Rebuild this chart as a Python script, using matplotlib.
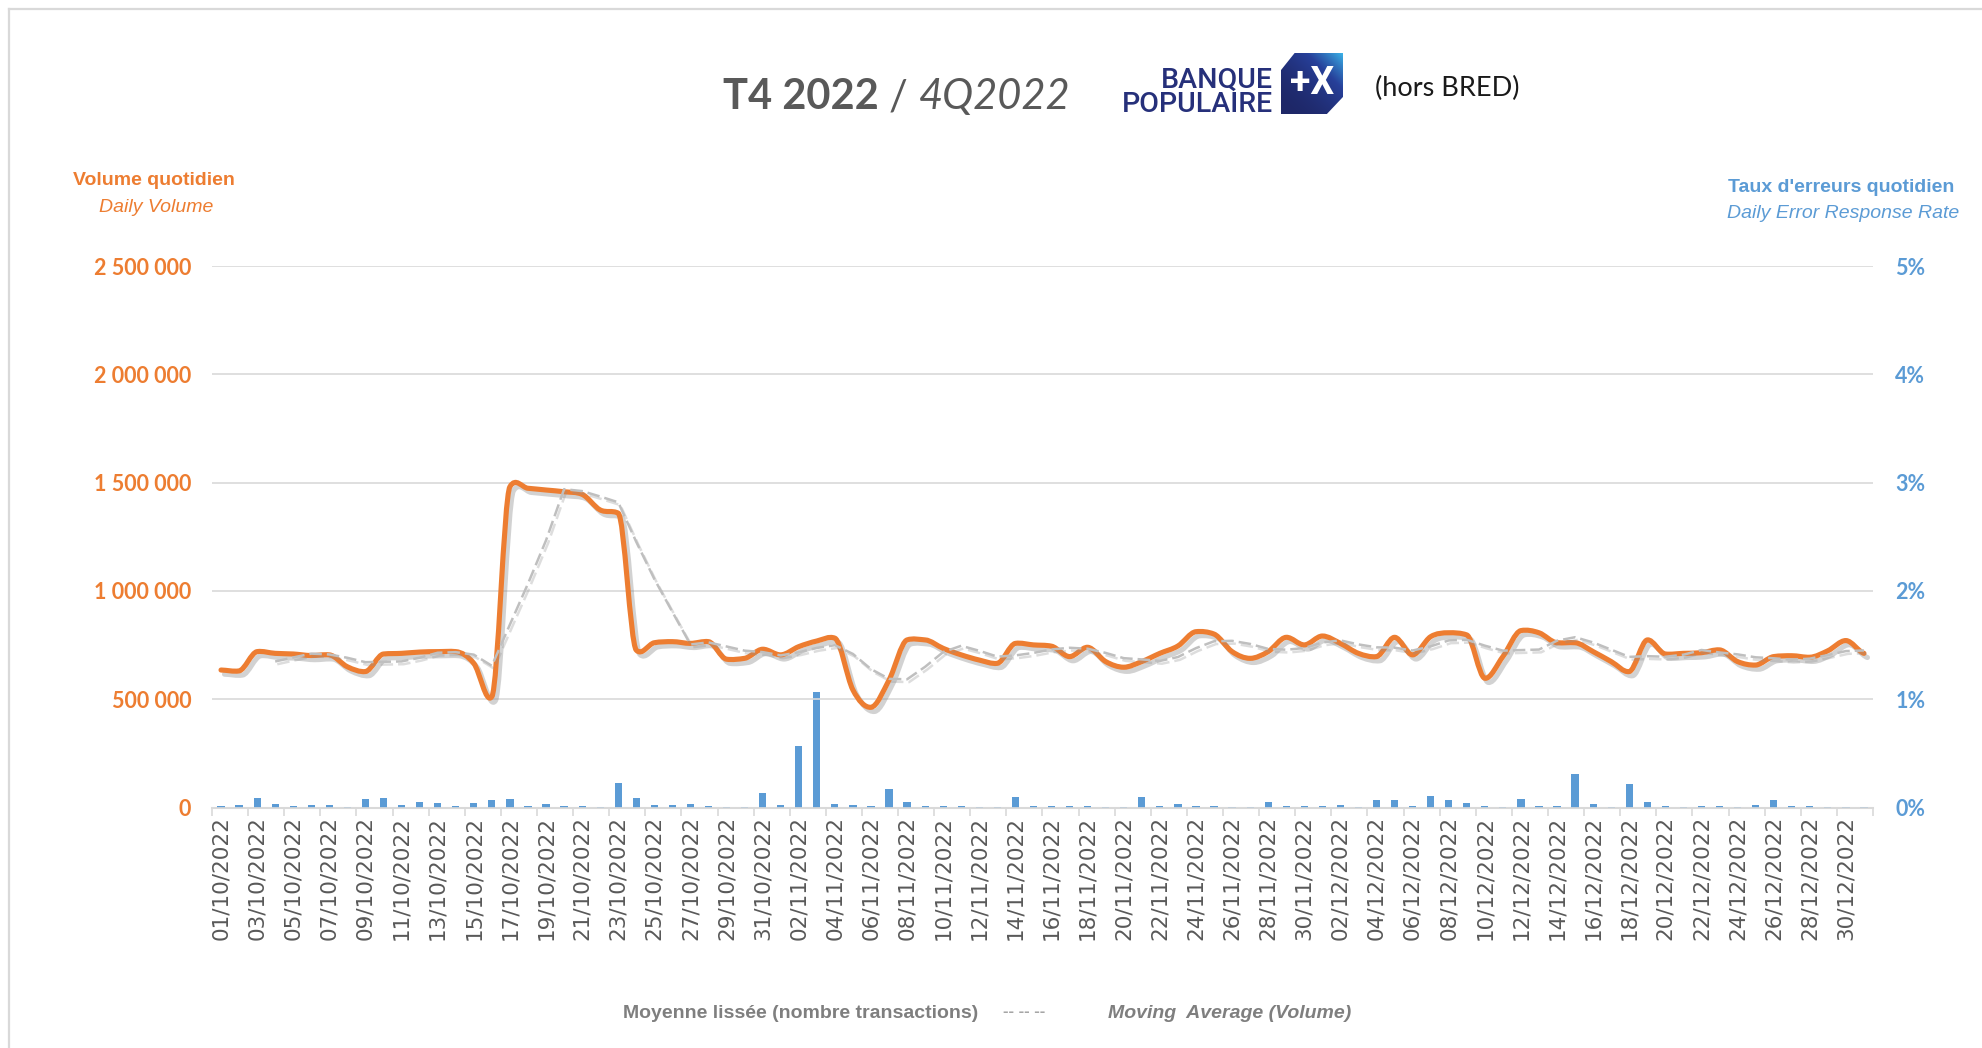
import matplotlib

matplotlib.use("Agg")
import matplotlib.patheffects as pe
import matplotlib.pyplot as plt
import numpy as np
import pandas as pd
from matplotlib import font_manager
from matplotlib.lines import Line2D
from matplotlib.patches import PathPatch, Polygon
from matplotlib.path import Path
from matplotlib.ticker import FuncFormatter

W, H = 1983, 1048

# daily categories, 01/10/2022 -> 31/12/2022
dates = pd.date_range("2022-10-01", "2022-12-31", freq="D")
date_labels = [d.strftime("%d/%m/%Y") for d in dates]

# daily volume (transactions)
daily_volume = [
    635000, 631000, 720000, 712000, 709000, 702000, 705000, 650000, 628000, 709000,
    712000, 718000, 720000, 720000, 666000, 512000, 1481000, 1474000, 1466000, 1458000,
    1446000, 1374000, 1359000, 727000, 761000, 766000, 758000, 766000, 685000, 689000,
    731000, 705000, 743000, 769000, 782000, 543000, 463000, 589000, 774000, 774000,
    735000, 705000, 681000, 666000, 758000, 751000, 745000, 697000, 740000, 674000,
    648000, 674000, 712000, 746000, 812000, 801000, 720000, 689000, 720000, 786000,
    751000, 792000, 758000, 712000, 697000, 786000, 705000, 789000, 807000, 797000,
    597000, 697000, 817000, 807000, 761000, 761000, 720000, 674000, 628000, 774000,
    709000, 712000, 715000, 728000, 674000, 658000, 697000, 701000, 694000, 724000,
    771000, 712000,
]

# moving average (volume), starts on the 4th day
moving_avg = [
    674500, 693000, 710750, 707000, 691500, 671250, 673000, 674750, 691750, 714750,
    717500, 706000, 654500, 844750, 1033250, 1233250, 1469750, 1461000, 1436000, 1409250,
    1226500, 1055250, 903250, 753000, 762750, 743750, 724500, 717750, 702500, 717000,
    737000, 749750, 709250, 639250, 594250, 592250, 650000, 718000, 747000, 723750,
    696750, 702500, 714000, 730000, 737750, 733250, 714000, 689750, 684000, 677000,
    695000, 736000, 767750, 769750, 755500, 732500, 728750, 736500, 762250, 771750,
    753250, 739750, 738250, 725000, 744250, 771750, 774500, 747500, 724500, 727000,
    729500, 770500, 786500, 762250, 729000, 695750, 699000, 696250, 705750, 727500,
    716000, 707250, 693750, 689250, 682500, 687500, 704000, 722500, 725250,
]
ma_start = 3

# daily error response rate (%)
error_rate = [
    0.012, 0.022, 0.085, 0.032, 0.018, 0.022, 0.022, 0.010, 0.079, 0.085,
    0.022, 0.052, 0.039, 0.013, 0.039, 0.067, 0.082, 0.013, 0.030, 0.013,
    0.013, 0.010, 0.230, 0.085, 0.022, 0.022, 0.036, 0.014, 0.010, 0.010,
    0.132, 0.022, 0.569, 1.067, 0.032, 0.022, 0.014, 0.168, 0.052, 0.013,
    0.013, 0.013, 0.010, 0.010, 0.097, 0.018, 0.018, 0.013, 0.013, 0.010,
    0.010, 0.094, 0.014, 0.030, 0.013, 0.013, 0.008, 0.010, 0.054, 0.018,
    0.013, 0.013, 0.027, 0.010, 0.073, 0.073, 0.013, 0.110, 0.073, 0.045,
    0.013, 0.008, 0.082, 0.018, 0.013, 0.307, 0.033, 0.010, 0.214, 0.051,
    0.013, 0.010, 0.013, 0.013, 0.010, 0.027, 0.067, 0.018, 0.013, 0.010,
    0.010, 0.010,
]

vol_ticks = [0, 500000, 1000000, 1500000, 2000000, 2500000]
rate_ticks = [0, 1, 2, 3, 4, 5]

ORANGE = "#ED7D31"
BLUE = "#5B9BD5"
GREY_TXT = "#595959"
GRID = "#D9D9D9"

narrow_ok = any(f.name == "Liberation Sans Narrow" for f in font_manager.fontManager.ttflist)


def smooth_path(x, y):
    # smoothed line drawn as cubic beziers through the data points (catmull-rom like),
    # tangents damped at local extremes and steep steps to keep overshoot small
    n = len(x)
    d = np.diff(y)
    m = np.zeros(n)
    for i in range(n):
        if i == 0:
            m[i] = d[0] / 2
        elif i == n - 1:
            m[i] = d[-1] / 2
        else:
            m[i] = (d[i - 1] + d[i]) / 2
            if d[i - 1] * d[i] <= 0:
                m[i] *= 0.3
            else:
                lim = 3 * min(abs(d[i - 1]), abs(d[i]))
                m[i] = np.sign(m[i]) * min(abs(m[i]), lim)
    verts = [(x[0], y[0])]
    codes = [Path.MOVETO]
    for i in range(n - 1):
        verts += [(x[i] + 1 / 3, y[i] + m[i] / 3), (x[i + 1] - 1 / 3, y[i + 1] - m[i + 1] / 3),
                  (x[i + 1], y[i + 1])]
        codes += [Path.CURVE4] * 3
    return Path(verts, codes)


def fx(px):
    return px / W


def fy(py):
    return 1 - py / H


fig = plt.figure(figsize=(W / 100, H / 100), dpi=100)
fig.patch.set_facecolor("white")

# outer frame (left + top)
fig.add_artist(Line2D([fx(9), fx(9)], [0, fy(9)], transform=fig.transFigure, color=GRID, lw=1.6))
fig.add_artist(Line2D([fx(9), 1], [fy(9), fy(9)], transform=fig.transFigure, color=GRID, lw=1.6))

ax = fig.add_axes([fx(212), fy(807.6), fx(1873) - fx(212), fy(266) - fy(807.6)])
ax2 = ax.twinx()
ax.set_zorder(2)
ax.patch.set_visible(False)

xs = np.arange(len(daily_volume))

# error rate bars (right axis), sitting on the category axis line
ax2.bar(xs, error_rate, width=0.4, color=BLUE, zorder=3)
ax2.set_ylim(0, 5)
ax2.set_yticks(rate_ticks)
ax2.yaxis.set_major_formatter(FuncFormatter(lambda v, p: f"{v:.0f}%"))

# volume line + moving average (left axis)
shadow = [pe.SimpleLineShadow(offset=(2.5, -3), shadow_color="#808080", alpha=0.35), pe.Normal()]
vol_path = smooth_path(xs.astype(float), np.array(daily_volume, dtype=float))
ax.add_patch(PathPatch(vol_path, fill=False, edgecolor=ORANGE, lw=3.7, capstyle="round",
                       joinstyle="round", zorder=3, path_effects=shadow))
ma_x = xs[ma_start:]
ax.plot(ma_x, moving_avg, color="#BFBFBF", lw=1.8, linestyle=(0, (5, 2)), zorder=4,
        path_effects=[pe.SimpleLineShadow(offset=(1.5, -2), shadow_color="#909090", alpha=0.3), pe.Normal()])

ax.set_xlim(-0.5, len(daily_volume) - 0.5)
ax.set_ylim(0, 2500000)
ax.set_yticks(vol_ticks)
ax.yaxis.set_major_formatter(FuncFormatter(lambda v, p: f"{int(v):,}".replace(",", " ")))
ax.grid(axis="y", color=GRID, lw=1.2, zorder=0)
ax.set_axisbelow(True)

ax.set_xticks(xs[::2])
ax.set_xticklabels(date_labels[::2], rotation=90, fontsize=15.5, color=GREY_TXT, family="DejaVu Sans")
ax.set_xticks(np.arange(-0.5, len(daily_volume), 2), minor=True)
ax.tick_params(axis="x", which="major", length=0, pad=6)
ax.tick_params(axis="x", which="minor", length=6, color=GRID, width=1.2)

for sp in ["top", "left", "right", "bottom"]:
    ax.spines[sp].set_visible(False)
for sp in ["top", "left", "right"]:
    ax2.spines[sp].set_visible(False)
ax2.spines["bottom"].set_color(GRID)
ax2.spines["bottom"].set_linewidth(1.5)
ax2.spines["bottom"].set_zorder(1)

ax.tick_params(axis="y", length=0, pad=15, labelsize=15.5, labelcolor=ORANGE)
ax2.tick_params(axis="y", length=0, pad=16, labelsize=15.5, labelcolor=BLUE)
for lab in ax.get_yticklabels() + ax2.get_yticklabels():
    lab.set_fontweight("bold")
    lab.set_family("Lato")

# axis titles
fig.text(fx(154), fy(181), "Volume quotidien", ha="center", va="center", fontsize=14,
         fontweight="bold", color=ORANGE, family="Liberation Sans")
fig.text(fx(156), fy(208), "Daily Volume", ha="center", va="center", fontsize=14,
         style="italic", color=ORANGE, family="Liberation Sans")
fig.text(fx(1954), fy(187), "Taux d'erreurs quotidien", ha="right", va="center", fontsize=14,
         fontweight="bold", color=BLUE, family="Liberation Sans")
fig.text(fx(1959), fy(214), "Daily Error Response Rate", ha="right", va="center", fontsize=14,
         style="italic", color=BLUE, family="Liberation Sans")

# title
fig.text(fx(723), fy(97), "T4 2022", ha="left", va="center", fontsize=30, fontweight="bold",
         color=GREY_TXT, family="Lato")
fig.text(fx(889), fy(97), "/", ha="left", va="center", fontsize=30, fontweight="normal",
         color=GREY_TXT, family="Lato")
fig.text(fx(919), fy(97), "4Q2022", ha="left", va="center", fontsize=30, style="italic",
         color=GREY_TXT, family="Lato")
fig.text(fx(1375), fy(88), "(hors BRED)", ha="left", va="center", fontsize=19.5, color="#1A1A1A",
         family="Lato")

# Banque Populaire logo
NAVY = "#26307A"
fig.text(fx(1273), fy(80), "BANQUE", ha="right", va="center", fontsize=20.5, fontweight="medium",
         color=NAVY, family="Roboto")
fig.text(fx(1273), fy(104), "POPULAIRE", ha="right", va="center", fontsize=20.5, fontweight="medium",
         color=NAVY, family="Roboto")
lax = fig.add_axes([fx(1281), fy(114), fx(1343) - fx(1281), fy(53) - fy(114)])
lax.set_xlim(0, 1)
lax.set_ylim(0, 1)
lax.axis("off")
gx, gy = np.meshgrid(np.linspace(0, 1, 60), np.linspace(0, 1, 60))
grad = np.clip((gx + gy) / 2, 0, 1) ** 2.0
cmap = matplotlib.colors.LinearSegmentedColormap.from_list("bp", ["#1E2767", "#27409A", "#3AB0E6"])
img = lax.imshow(grad, cmap=cmap, extent=(0, 1, 0, 1), origin="lower", aspect="auto")
clip = Polygon([(0.22, 1), (1, 1), (1, 0.28), (0.74, 0), (0, 0), (0, 0.72)], closed=True,
               transform=lax.transAxes, facecolor="none", edgecolor="none")
lax.add_patch(clip)
img.set_clip_path(clip)
lax.text(0.5, 0.5, "+X", ha="center", va="center", fontsize=27, fontweight="bold", color="white",
         family="Roboto", transform=lax.transAxes)

# bottom legend
if narrow_ok:
    leg_font, leg_size = "Liberation Sans Narrow", 16.5
else:
    leg_font, leg_size = "Liberation Sans", 14
fig.text(fx(623), fy(1014), "Moyenne lissée (nombre transactions)", ha="left", va="center",
         fontsize=leg_size, fontweight="bold", color="#7F7F7F", family=leg_font)
fig.text(fx(1003), fy(1012), "-- -- --", ha="left", va="center", fontsize=12, fontweight="bold",
         color="#A6A6A6", family="Liberation Sans")
fig.text(fx(1108), fy(1014), "Moving  Average (Volume)", ha="left", va="center", fontsize=leg_size,
         fontweight="bold", style="italic", color="#7F7F7F", family=leg_font)

fig.savefig("out.png", dpi=100, facecolor="white")
